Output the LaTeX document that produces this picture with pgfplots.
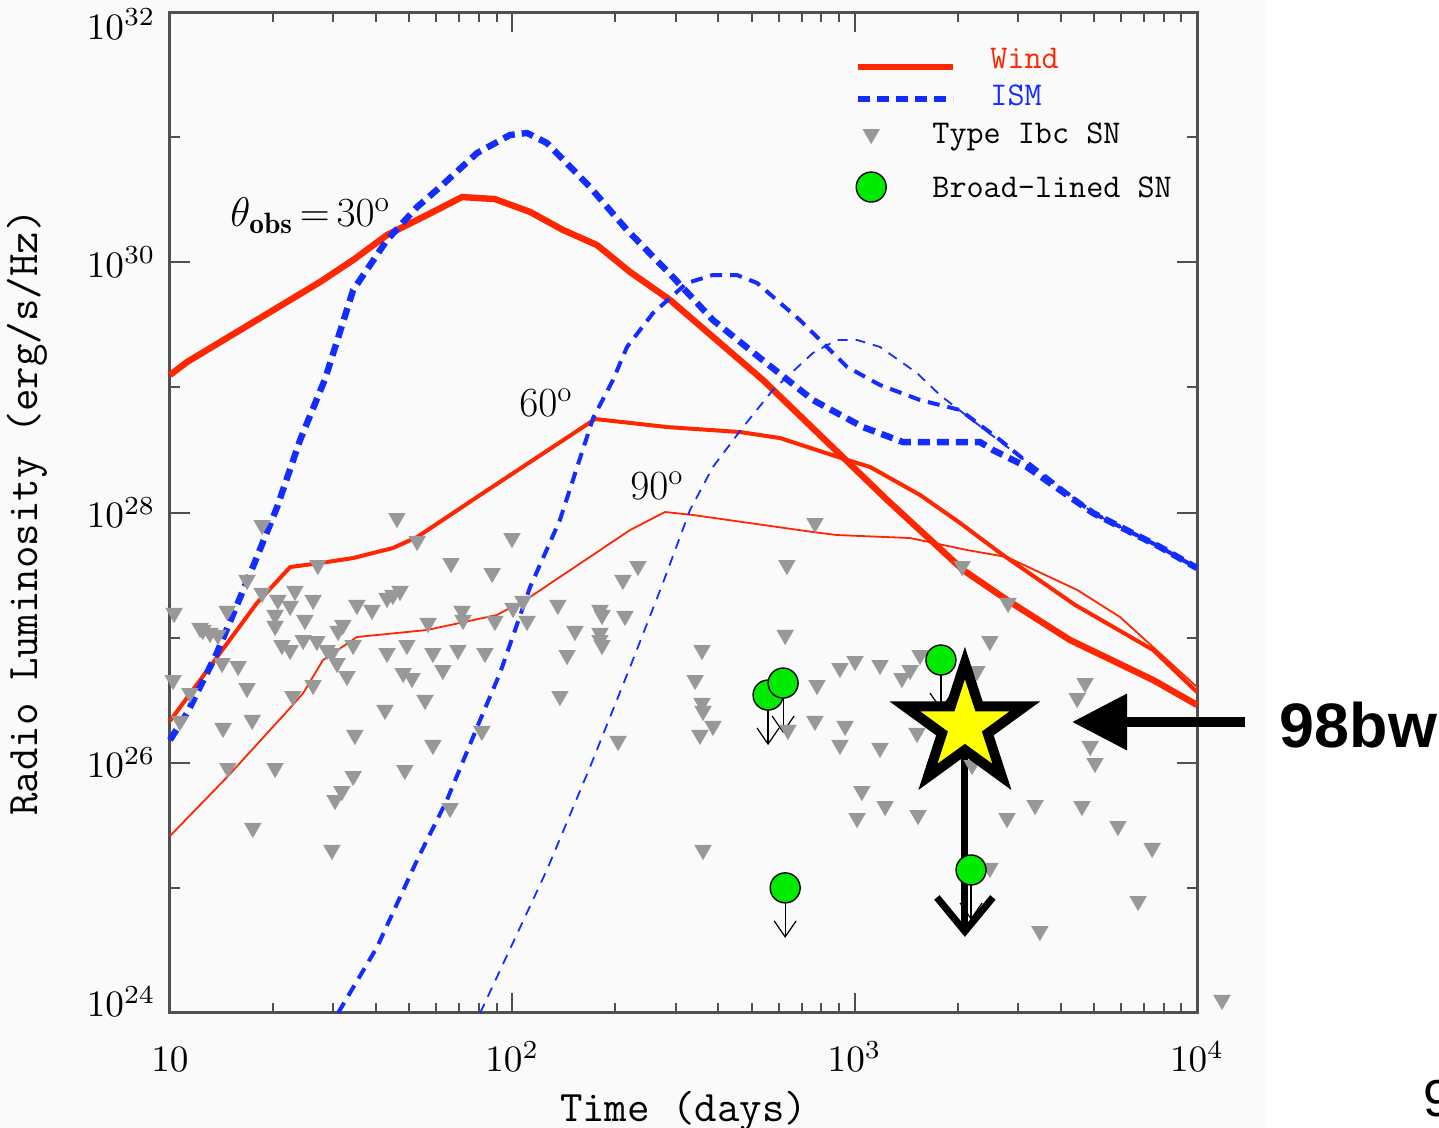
\documentclass[border=0pt]{standalone}
\usepackage{fontspec}
\usepackage{graphicx}
\usepackage{pgfplots}
\pgfplotsset{compat=1.18}
\usetikzlibrary{arrows.meta}
\newfontfamily\sansfont{Liberation Sans}

\definecolor{windred}{RGB}{255,38,0}
\definecolor{ismblue}{RGB}{20,45,255}
\definecolor{trigrey}{RGB}{152,152,152}
\definecolor{bgreen}{RGB}{0,235,0}
\definecolor{axgrey}{RGB}{80,80,80}
\definecolor{panel}{RGB}{250,250,250}
\definecolor{staryellow}{RGB}{255,255,0}

% filled five-pointed star used for SN 1998bw
\pgfdeclareplotmark{fivestar}{%
  \pgfpathmoveto{\pgfpointpolar{90}{\pgfplotmarksize}}%
  \pgfpathlineto{\pgfpointpolar{126}{0.382\pgfplotmarksize}}%
  \pgfpathlineto{\pgfpointpolar{162}{\pgfplotmarksize}}%
  \pgfpathlineto{\pgfpointpolar{198}{0.382\pgfplotmarksize}}%
  \pgfpathlineto{\pgfpointpolar{234}{\pgfplotmarksize}}%
  \pgfpathlineto{\pgfpointpolar{270}{0.382\pgfplotmarksize}}%
  \pgfpathlineto{\pgfpointpolar{306}{\pgfplotmarksize}}%
  \pgfpathlineto{\pgfpointpolar{342}{0.382\pgfplotmarksize}}%
  \pgfpathlineto{\pgfpointpolar{18}{\pgfplotmarksize}}%
  \pgfpathlineto{\pgfpointpolar{54}{0.382\pgfplotmarksize}}%
  \pgfpathclose
  \pgfusepathqfillstroke
}

\newcommand\lgstrut[1]{\rule[-4pt]{0pt}{#1}}
% enlarged tick-label text
\newcommand\tl[1]{\scalebox{1.86}{$#1$}}

\begin{document}
\begin{tikzpicture}
\useasboundingbox (-85pt,-57.5pt) rectangle (634.5pt,506.5pt);
\fill[panel] (-85pt,-57.5pt) rectangle (548pt,506.5pt);

% axes are in log10 units: x = log10(t/days), y = log10(L / erg s^-1 Hz^-1)
\begin{axis}[
  at={(0pt,0pt)}, anchor=south west,
  scale only axis, width=513.5pt, height=500.5pt,
  xmin=1, xmax=4, ymin=24, ymax=32,
  clip=false, scaled ticks=false,
  axis line style={line width=1.5pt, draw=axgrey},
  tick style={line width=1pt, draw=axgrey},
  major tick length=10pt, minor tick length=5pt,
  tick align=inside,
  xtick={1,2,3,4},
  xticklabels={\tl{10},\tl{10^{2}},\tl{10^{3}},\tl{10^{4}}},
  minor xtick={1.30103,1.47712,1.60206,1.69897,1.77815,1.84510,1.90309,1.95424,
               2.30103,2.47712,2.60206,2.69897,2.77815,2.84510,2.90309,2.95424,
               3.30103,3.47712,3.60206,3.69897,3.77815,3.84510,3.90309,3.95424},
  ytick={24,26,28,30,32},
  yticklabels={\raisebox{5.5pt}{\tl{10^{24}}},\tl{10^{26}},\tl{10^{28}},\tl{10^{30}},\raisebox{-6pt}{\tl{10^{32}}}},
  minor ytick={25,27,29,31},
  xticklabel style={anchor=base, inner sep=0pt, yshift=-29.5pt},
  yticklabel style={anchor=base east, inner sep=0pt, xshift=-7pt, yshift=-7.5pt},
  xlabel={Time (days)},
  ylabel={Radio Luminosity (erg/s/Hz)},
  xlabel style={at={(axis description cs:0.5,0)}, anchor=base, yshift=-54pt, inner sep=0pt, font=\fontsize{21.8}{24}\ttfamily},
  ylabel style={at={(axis description cs:-0.1295,0.5)}, anchor=base, inner sep=0pt, font=\fontsize{21.8}{24}\ttfamily},
  legend style={at={(0.6670,0.9740)}, anchor=north west, draw=none, fill=none,
    inner sep=0pt, outer sep=0pt, row sep=0pt, column sep=17pt,
    font=\fontsize{16.6}{18}\ttfamily,
    cells={anchor=base west}, nodes={inner sep=0pt, text depth=}},
]

% legend
\addlegendimage{legend image code/.code={\draw[windred, line width=3.2pt] (0pt,0.5pt) -- (47.5pt,0.5pt);}}
\addlegendentry{\textcolor{windred}{Wind}\lgstrut{19pt}}
\addlegendimage{legend image code/.code={\draw[ismblue, line width=3.2pt, dash pattern=on 6pt off 3.5pt] (0pt,3pt) -- (47.5pt,3pt);}}
\addlegendentry{\textcolor{ismblue}{ISM}\lgstrut{18.5pt}}
\addlegendimage{legend image code/.code={\path[draw=none] (0pt,0pt) (47.5pt,0pt);
  \path[draw=none] plot[mark=triangle*, mark size=4.9pt, mark options={rotate=180, fill=trigrey, draw=trigrey, line width=0.1pt}] coordinates {(6.5pt,4.5pt)};}}
\addlegendentry{\hspace*{-29pt}Type Ibc SN\lgstrut{19pt}}
\addlegendimage{legend image code/.code={\path[draw=none] (0pt,0pt) (47.5pt,0pt);
  \path[draw=none] plot[mark=*, mark size=7.5pt, mark options={fill=bgreen, draw=black, line width=0.7pt}] coordinates {(6.5pt,5pt)};}}
\addlegendentry{\hspace*{-29pt}Broad-lined SN\lgstrut{27pt}}

% wind models, theta_obs = 30, 60, 90 deg
\addplot[forget plot, windred, line width=3.2pt, line join=round] table {
1.000 29.099
1.050 29.203
1.438 29.842
1.535 30.018
1.634 30.218
1.751 30.378
1.853 30.521
1.949 30.505
2.052 30.402
2.148 30.258
2.247 30.138
2.344 29.922
2.461 29.698
2.732 29.059
3.095 28.100
3.317 27.540
3.445 27.301
3.629 26.981
3.872 26.661
4.000 26.462
};
\addplot[forget plot, windred, line width=2pt, line join=round] table {
1.000 26.334
1.254 27.277
1.351 27.564
1.438 27.596
1.535 27.636
1.651 27.716
1.722 27.804
1.906 28.140
2.242 28.747
2.452 28.683
2.665 28.643
2.782 28.595
2.978 28.420
3.045 28.364
3.191 28.140
3.308 27.916
3.425 27.676
3.644 27.261
3.872 26.901
4.000 26.565
};
\addplot[forget plot, windred, line width=0.9pt, line join=round] table {
1.000 25.415
1.167 25.886
1.351 26.438
1.389 26.557
1.447 26.821
1.546 27.005
1.751 27.061
1.955 27.181
2.052 27.325
2.344 27.860
2.446 28.004
2.528 27.980
2.878 27.844
2.948 27.820
3.162 27.796
3.328 27.700
3.445 27.644
3.650 27.381
3.775 27.165
4.000 26.605
};

% ISM models, theta_obs = 30, 60, 90 deg
\addplot[forget plot, ismblue, line width=3.2pt, dash pattern=on 6pt off 3.5pt] table {
1.000 26.182
1.050 26.398
1.137 26.877
1.242 27.564
1.313 28.044
1.380 28.579
1.453 29.067
1.535 29.778
1.634 30.178
1.722 30.442
1.789 30.601
1.897 30.873
1.993 31.017
2.043 31.033
2.101 30.953
2.227 30.601
2.335 30.258
2.469 29.882
2.586 29.538
2.738 29.203
2.878 28.899
3.024 28.683
3.141 28.563
3.366 28.563
3.404 28.499
3.503 28.364
3.696 27.996
3.892 27.724
4.000 27.556
};
\addplot[forget plot, ismblue, line width=2pt, dash pattern=on 6pt off 4pt] table {
1.491 24.000
1.605 24.527
1.722 25.223
1.809 25.702
1.906 26.342
1.964 26.717
2.052 27.405
2.139 27.940
2.236 28.755
2.294 29.059
2.335 29.323
2.411 29.594
2.510 29.834
2.586 29.898
2.656 29.898
2.715 29.834
2.840 29.538
2.978 29.163
3.074 29.019
3.191 28.899
3.308 28.819
3.425 28.579
3.503 28.404
3.696 27.996
3.892 27.724
4.000 27.556
};
\addplot[forget plot, ismblue, line width=0.9pt, dash pattern=on 5pt off 4pt] table {
1.906 24.000
2.101 25.143
2.227 25.966
2.344 26.765
2.440 27.437
2.519 28.020
2.586 28.364
2.674 28.683
2.761 28.979
2.878 29.275
2.948 29.379
3.007 29.379
3.074 29.323
3.182 29.115
3.249 28.939
3.381 28.659
3.503 28.404
3.696 27.996
3.892 27.724
4.000 27.556
};

% Type Ibc SNe (upper limits)
\addplot[forget plot, only marks, mark=triangle*, mark size=4.9pt,
  mark options={rotate=180, fill=trigrey, draw=trigrey, line width=0.1pt}] table {
1.269 27.900
1.663 27.956
1.722 27.772
1.432 27.580
1.821 27.596
1.941 27.516
1.225 27.461
1.269 27.357
1.365 27.373
1.315 27.301
1.418 27.301
1.672 27.373
1.651 27.341
1.634 27.317
1.546 27.261
1.590 27.221
1.351 27.253
1.167 27.213
1.012 27.197
1.307 27.181
1.394 27.141
1.096 27.061
1.117 27.037
1.140 27.021
1.088 27.077
1.307 27.093
1.505 27.101
1.491 27.053
1.754 27.117
1.853 27.213
1.856 27.141
1.949 27.133
1.327 26.941
1.351 26.901
1.389 26.981
1.429 26.973
1.459 26.901
1.473 26.877
1.535 26.941
1.634 26.877
1.692 26.941
1.768 26.877
1.841 26.901
1.920 26.877
1.152 26.797
1.199 26.773
1.488 26.797
1.517 26.693
1.681 26.717
1.707 26.677
1.797 26.741
1.009 26.661
1.225 26.597
1.418 26.621
1.359 26.533
1.058 26.557
1.745 26.502
1.628 26.422
1.029 26.334
1.240 26.342
1.155 26.278
1.540 26.222
1.911 26.254
1.768 26.142
1.169 25.958
1.307 25.958
1.686 25.942
1.535 25.894
1.502 25.774
1.482 25.702
1.818 25.638
1.242 25.479
1.473 25.303
1.999 27.796
2.367 27.572
2.323 27.461
2.884 27.916
2.802 27.580
2.031 27.293
2.002 27.237
2.133 27.261
2.256 27.221
2.262 27.181
2.329 27.173
2.043 27.133
2.183 27.053
2.256 27.037
2.256 26.981
2.262 26.941
2.160 26.861
2.554 26.901
2.797 27.021
2.534 26.661
2.139 26.533
2.554 26.478
2.557 26.414
2.586 26.294
2.548 26.222
2.805 26.262
2.890 26.621
2.884 26.334
2.309 26.174
2.557 25.303
2.957 26.757
3.001 26.813
3.074 26.781
3.138 26.677
3.162 26.741
3.191 26.861
2.972 26.294
2.957 26.142
3.074 26.118
3.182 26.238
3.314 27.572
3.448 27.277
3.395 26.973
3.357 26.733
3.673 26.637
3.650 26.517
3.688 26.134
3.702 25.998
3.021 25.774
3.089 25.654
3.007 25.558
3.185 25.582
3.445 25.558
3.527 25.662
3.664 25.654
3.769 25.494
3.869 25.319
3.395 25.159
3.828 24.895
3.541 24.655
4.073 24.104
3.343 25.982
};

% broad-lined SNe (upper limits)
\addplot[forget plot, only marks, mark=*, mark size=7.5pt,
  mark options={fill=bgreen, draw=black, line width=0.7pt}] table {
2.747 26.541
2.791 26.637
2.797 25.000
3.252 26.821
3.340 25.143
};
\addplot[forget plot, black, line width=0.6pt, -{Straight Barb[length=8pt,width=11pt]},
  quiver={u=\thisrow{u}, v=\thisrow{v}}] table {
x y u v
2.747 26.541 0 -0.40
2.791 26.637 0 -0.40
2.797 25.000 0 -0.40
3.252 26.821 0 -0.40
3.340 25.143 0 -0.40
};

% SN 1998bw
\addplot[forget plot, only marks, mark=fivestar, mark size=31.5pt,
  mark options={fill=staryellow, draw=black, line width=5pt, line join=miter}] coordinates {(3.322,26.294)};
\addplot[forget plot, black, line width=3.5pt, -{Straight Barb[length=17pt,width=28pt]},
  quiver={u=\thisrow{u}, v=\thisrow{v}}] table {
x y u v
3.322 26.294 0 -1.686
};
\end{axis}

% curve labels
\node[anchor=base west, inner sep=0pt, font=\fontsize{21}{23}\selectfont] at (30pt,393pt) {$\theta_{\mathbf{obs}}\,{=}\,30^{\mathrm{o}}$};
\node[anchor=base west, inner sep=0pt, font=\fontsize{20.5}{22}\selectfont] at (174.5pt,298pt) {$60^{\mathrm{o}}$};
\node[anchor=base west, inner sep=0pt, font=\fontsize{20.5}{22}\selectfont] at (230pt,256.5pt) {$90^{\mathrm{o}}$};

% pointer to 1998bw
\draw[black, line width=5pt, -{Triangle[length=27.5pt,width=27pt]}] (537.5pt,145.5pt) -- (451pt,145.5pt);
\node[anchor=base west, inner sep=0pt, font={\fontsize{31.4}{34}\sansfont\bfseries}] at (554.7pt,132.5pt) {98bw};
\node[anchor=base west, inner sep=0pt, font={\fontsize{26}{28}\sansfont}] at (626.5pt,-52pt) {9};
\end{tikzpicture}
\end{document}
